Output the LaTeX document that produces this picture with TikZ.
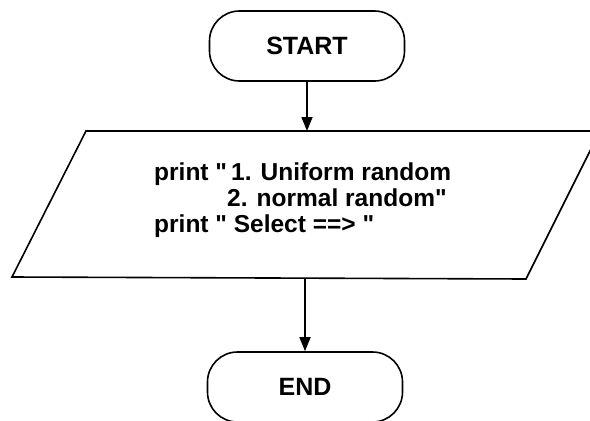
\documentclass[tikz,border=0pt]{standalone}
\usepackage{fontspec}
\newfontfamily\flowfont{Liberation Sans}
\usetikzlibrary{arrows.meta, positioning}

\begin{document}
\begin{tikzpicture}[% styles of the flowchart
         x = 1pt, y = -1pt,
         > = {Triangle[length=14pt, width=11pt]},
 flow/.style = {line width=1.6pt},
 term/.style = {draw, flow, rounded corners=30pt,
                minimum width=195pt, minimum height=70pt,
                font=\flowfont\fontsize{25}{29}\selectfont\bfseries},
  txt/.style = {anchor=base west, inner sep=0pt,
                font=\flowfont\fontsize{24.5}{29}\selectfont\bfseries}
                   ]
	\useasboundingbox (0,0) rectangle (590,421);

	% terminals
	\node[term] (start) at (307,46) {START};
	\node[term] (stop) at (305,387) {END};

	% input/output box
	\coordinate (bl) at (12,277);
	\coordinate (tl) at (86,131);
	\coordinate (tr) at (600,131);
	\coordinate (br) at (526,279);
	\draw[flow] (bl) -- (tl) -- (tr) -- (br) -- cycle;
	\coordinate (iotop) at (307,131);
	\coordinate (iobot) at (305,278);

	\node[txt] (line1) at (154,180) {print "\,1. Uniform random};
	\node[txt] (line2) at (227,206) {2. normal random"};
	\node[txt] (line3) at (154,232) {print " Select ==> "};

	% flow lines
	\draw[flow,->] (start) -- (iotop);
	\draw[flow,->] (iobot) -- (stop);
\end{tikzpicture}
\end{document}
